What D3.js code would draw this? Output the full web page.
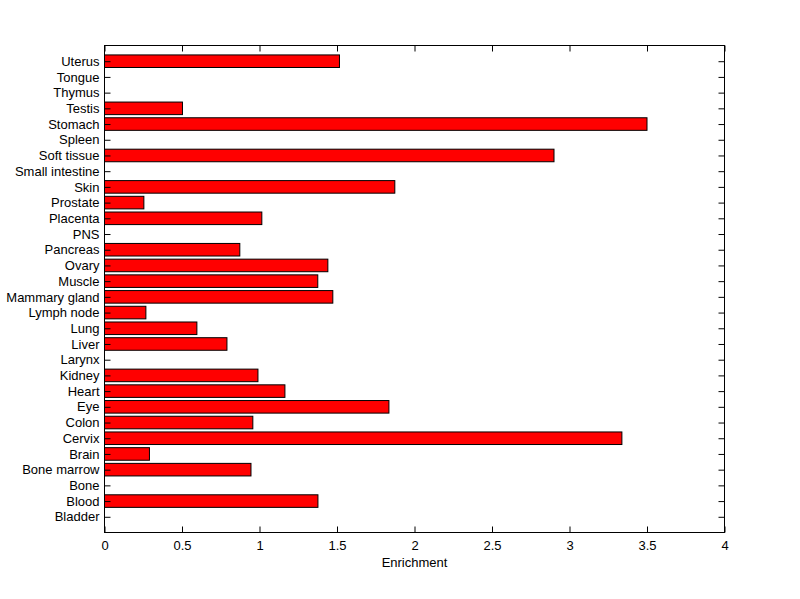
<!DOCTYPE html>
<html><head><meta charset="utf-8">
<script src="https://cdn.jsdelivr.net/npm/d3@7"></script>
<style>html,body{margin:0;padding:0;background:#fff;}svg{display:block;}</style>
</head><body>
<script>
const categories = ["Bladder","Blood","Bone","Bone marrow","Brain","Cervix","Colon","Eye","Heart","Kidney","Larynx","Liver","Lung","Lymph node","Mammary gland","Muscle","Ovary","Pancreas","PNS","Placenta","Prostate","Skin","Small intestine","Soft tissue","Spleen","Stomach","Testis","Thymus","Tongue","Uterus"];
const values = [0,1.377,0,0.945,0.29,3.338,0.957,1.835,1.164,0.99,0,0.79,0.596,0.267,1.473,1.376,1.441,0.873,0,1.015,0.254,1.873,0,2.9,0,3.5,0.503,0,0,1.516];
const xTicks = [0,0.5,1,1.5,2,2.5,3,3.5,4];

(function(){
const W = 800, H = 599;
const pL = 104.5, pR = 724.5, pT = 45.5, pB = 532.5;
const svg = d3.select("body").append("svg").attr("width", W).attr("height", H);
const font = "Arial, 'Liberation Sans', sans-serif";

const x = d3.scaleLinear().domain([0,4]).range([pL, pR]);
const y = d3.scaleLinear().domain([0, categories.length + 1]).range([pB, pT]);
const slot = Math.abs(y(1) - y(0));
const bw = slot * 0.8;

svg.append("g").selectAll("rect").data(values.map((v,i)=>({v,i}))).join("rect")
  .filter(d => d.v > 0)
  .attr("x", x(0))
  .attr("y", d => y(d.i+1) - bw/2)
  .attr("width", d => x(d.v) - x(0))
  .attr("height", bw)
  .attr("fill", "#ff0000")
  .attr("stroke", "#000")
  .attr("stroke-width", 1);

svg.append("rect").attr("x", pL).attr("y", pT).attr("width", pR-pL).attr("height", pB-pT)
  .attr("fill","none").attr("stroke","#000").attr("stroke-width",1);

const tl = 6;
const xb = svg.append("g").attr("transform", `translate(0,${pB})`)
  .call(d3.axisBottom(x).tickValues(xTicks).tickFormat(d3.format("")).tickSizeInner(-tl).tickSizeOuter(0).tickPadding(8));
xb.select(".domain").remove();
xb.selectAll("text").attr("font-family", font).attr("font-size", 13).attr("fill","#000");
xb.selectAll("line").attr("stroke","#000");
const xt = svg.append("g").attr("transform", `translate(0,${pT})`)
  .call(d3.axisTop(x).tickValues(xTicks).tickFormat("").tickSizeInner(-tl).tickSizeOuter(0));
xt.select(".domain").remove();
xt.selectAll("line").attr("stroke","#000");

const yl = svg.append("g").attr("transform", `translate(${pL},0)`)
  .call(d3.axisLeft(y).tickValues(d3.range(1, categories.length+1)).tickFormat(d => categories[d-1]).tickSizeInner(-tl).tickSizeOuter(0).tickPadding(5));
yl.select(".domain").remove();
yl.selectAll("text").attr("font-family", font).attr("font-size", 13).attr("fill","#000");
yl.selectAll("line").attr("stroke","#000");
const yr = svg.append("g").attr("transform", `translate(${pR},0)`)
  .call(d3.axisRight(y).tickValues(d3.range(1, categories.length+1)).tickFormat("").tickSizeInner(-tl).tickSizeOuter(0));
yr.select(".domain").remove();
yr.selectAll("line").attr("stroke","#000");

svg.append("text").attr("x", (pL+pR)/2).attr("y", 567)
  .attr("text-anchor","middle").attr("font-family", font).attr("font-size", 13).attr("fill","#000")
  .text("Enrichment");
})();
</script>
</body></html>
